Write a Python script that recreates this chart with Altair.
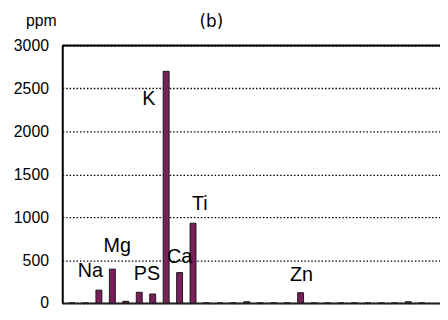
import altair as alt
import pandas as pd

elements = ["C", "O", "Na", "Mg", "Al", "P", "S", "K", "Ca", "Ti", "V", "Cr", "Mn", "Fe",
            "Co", "Ni", "Cu", "Zn", "As", "Se", "Br", "Rb", "Sr", "Y", "Zr", "Mo", "Ba"]
ppm = [0, 0, 150, 395, 20, 125, 105, 2700, 355, 930, 0, 0, 0, 15,
       0, 0, 0, 120, 0, 0, 0, 0, 0, 0, 0, 15, 0]

label_text = ["Na", "Mg", "PS", "K", "Ca", "Ti", "Zn"]
label_x = [1.36, 3.36, 5.57, 5.71, 8.0, 9.5, 17.07]
label_y = [368, 667, 333, 2379, 540, 1149, 322]

head_text = ["ppm", "(b)"]
head_x = [-2.29, 10.36]
head_y = [3290, 3270]
head_font = ["Liberation Sans", "DejaVu Sans"]

bars_df = pd.DataFrame({"el": elements, "idx": list(range(len(elements))), "ppm": ppm})
labels_df = pd.DataFrame({"t": label_text, "x": label_x, "y": label_y})
head_df = pd.DataFrame({"t": head_text, "x": head_x, "y": head_y})

xscale = alt.Scale(domain=[-0.36, 27.0], nice=False, zero=False)
yscale = alt.Scale(domain=[0, 3000], nice=False)
yaxis = alt.Axis(values=[0, 500, 1000, 1500, 2000, 2500, 3000], ticks=False, format="d",
                 labelPadding=14, grid=True, title=None)
xaxis = alt.Axis(labels=False, ticks=False, grid=False, title=None)

bars = alt.Chart(bars_df).mark_bar(size=6, color="#7A1F5C", stroke="#1a1a1a", strokeWidth=1).encode(
    x=alt.X("idx:Q", scale=xscale, axis=xaxis),
    y=alt.Y("ppm:Q", scale=yscale, axis=yaxis),
)

top_rule = alt.Chart(pd.DataFrame({"y": [3000]})).mark_rule(color="black", strokeWidth=2).encode(
    y=alt.Y("y:Q", scale=yscale, axis=yaxis)
)

labels = alt.Chart(labels_df).mark_text(font="Liberation Sans", fontSize=20, color="black",
                                        align="center", baseline="middle").encode(
    x=alt.X("x:Q", scale=xscale, axis=xaxis),
    y=alt.Y("y:Q", scale=yscale, axis=yaxis),
    text="t:N",
)

unit_text = alt.Chart(head_df.iloc[[0]]).mark_text(
    font=head_font[0], fontSize=16, color="black", align="center", baseline="middle"
).encode(text="t:N", x=alt.X("x:Q", scale=xscale, axis=xaxis),
         y=alt.Y("y:Q", scale=yscale, axis=yaxis))

title_text = alt.Chart(head_df.iloc[[1]]).mark_text(
    font=head_font[1], fontSize=17, color="black", align="center", baseline="middle"
).encode(text="t:N", x=alt.X("x:Q", scale=xscale, axis=xaxis),
         y=alt.Y("y:Q", scale=yscale, axis=yaxis))

chart = (bars + top_rule + labels + unit_text + title_text).properties(
    width=383, height=261,
    padding={"left": 55, "top": 36, "right": 0, "bottom": 7},
    autosize=alt.AutoSizeParams(type="none"),
).configure_view(stroke=None).configure(background="white").configure_axisY(
    labelFontSize=16, labelColor="black", labelFont="Liberation Sans",
    gridDash=[1.5, 2], gridColor="black", gridWidth=1.3, gridOpacity=1,
    domainColor="black", domainWidth=2,
).configure_axisX(domainColor="#222222", domainWidth=2)

chart.save("out.html", embed_options={"renderer": "svg", "actions": False})
